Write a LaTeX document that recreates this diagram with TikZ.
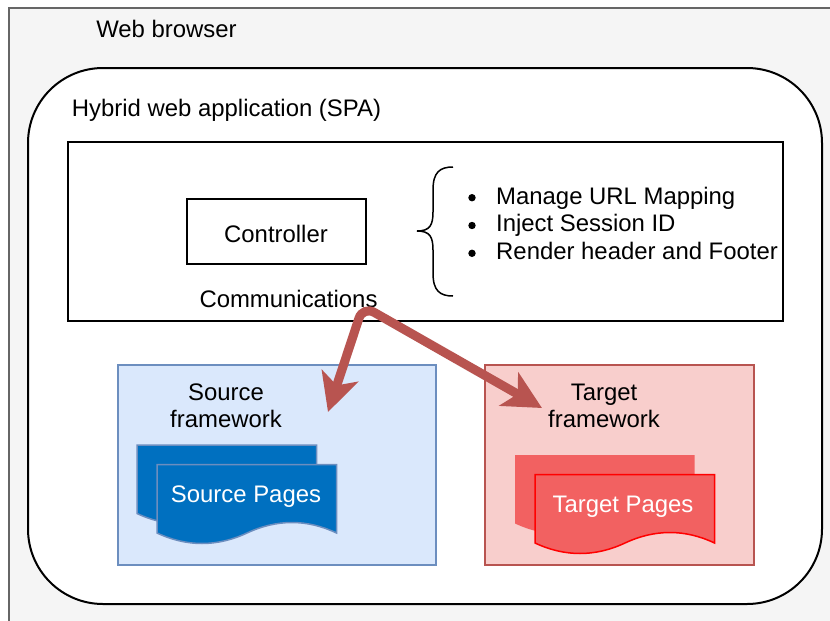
\documentclass[tikz,border=0pt]{standalone}
\usepackage{fontspec}
\setmainfont{Liberation Sans}
\usetikzlibrary{arrows.meta}

\tikzset{
    textlabel/.style={inner sep=0pt,font=\fontsize{23.9}{27}\selectfont,align=center},
    sheet/.pic={
        \path[pic actions] (-90,-29.5) -- (89.5,-29.5) -- (89.5,39)
            .. controls (60,25) and (30,25) .. (0,39)
            .. controls (-30,53) and (-60,53) .. (-90,39) -- cycle;
    },
    commarrow/.style={draw=arrowred,line width=9pt,rounded corners=13pt,
        {Stealth[length=38pt,width=38pt,inset=10pt]}-{Stealth[length=38pt,width=38pt,inset=10pt]}}
}
\definecolor{arrowred}{HTML}{B85450}
\definecolor{srcfill}{HTML}{DAE8FC}
\definecolor{srcline}{HTML}{6C8EBF}
\definecolor{srcpage}{HTML}{0070C0}
\definecolor{tgtfill}{HTML}{F8CECC}
\definecolor{tgtpage}{HTML}{F26161}

\begin{document}
\begin{tikzpicture}[x=1pt,y=-1pt]
    \useasboundingbox (0,0) rectangle (830,621);
    \clip (0,0) rectangle (830,621);

    \draw[draw=black!60,fill=black!4,line width=1.8pt] (9,8) rectangle (850,640);
    \draw[fill=white,line width=2pt,rounded corners=75pt] (28,68) rectangle (822,604);
    \draw (166.5,28.5) node [textlabel] (browser) {Web browser};
    \draw (226.5,110) node [textlabel] (app) {Hybrid web application (SPA)};

    \draw[fill=white,line width=2pt] (68,142) rectangle (783,321);
    \draw (276.5,231.5) node [draw,shape=rectangle,line width=1.7pt,minimum width=179pt,minimum height=65pt,inner sep=0pt] (controller) {};
    \draw (276,234) node [textlabel] (controllertext) {Controller};
    \draw (288.5,299) node [textlabel] (comm) {Communications};

    % brace
    \draw[line width=1.5pt] (453,167) .. controls (440,167) and (433,172) .. (433,190)
        -- (433,212) .. controls (433,225) and (430,231) .. (417,231)
        .. controls (430,231) and (433,237) .. (433,250)
        -- (433,273) .. controls (433,291) and (440,296) .. (453,296);

    \foreach \y in {197.7,225.5,253.3}
        \fill (472,\y) circle (3.7);
    \draw (496,204) node [textlabel,anchor=base west] (url) {Manage URL Mapping};
    \draw (496,231) node [textlabel,anchor=base west] (session) {Inject Session ID};
    \draw (496,259) node [textlabel,anchor=base west] (render) {Render header and Footer};

    % source side
    \draw[draw=srcline,fill=srcfill,line width=1.8pt] (118,365) rectangle (436,565);
    \draw (226,406) node [textlabel] (source) {Source\\framework};
    \path (227,474.5) pic[draw=srcline,fill=srcpage,line width=1.5pt] {sheet};
    \path (247,494) pic[draw=srcline,fill=srcpage,line width=1.5pt] {sheet};
    \draw (246,497) node [textlabel,text=white] (srcpages) {Source Pages};

    % target side
    \draw[draw=arrowred,fill=tgtfill,line width=1.8pt] (485,365) rectangle (754,565);
    \draw (604,406) node [textlabel] (target) {Target\\framework};
    \path (605,484.5) pic[fill=tgtpage] {sheet};
    \path (625,504) pic[draw=red,fill=tgtpage,line width=1.5pt] {sheet};
    \draw (623,507) node [textlabel,text=white] (tgtpages) {Target Pages};

    \coordinate (srctip) at (328,412);
    \coordinate (bend) at (363,306);
    \coordinate (tgttip) at (542,408);
    \draw[commarrow] (srctip) -- (bend) -- (tgttip);
\end{tikzpicture}
\end{document}
